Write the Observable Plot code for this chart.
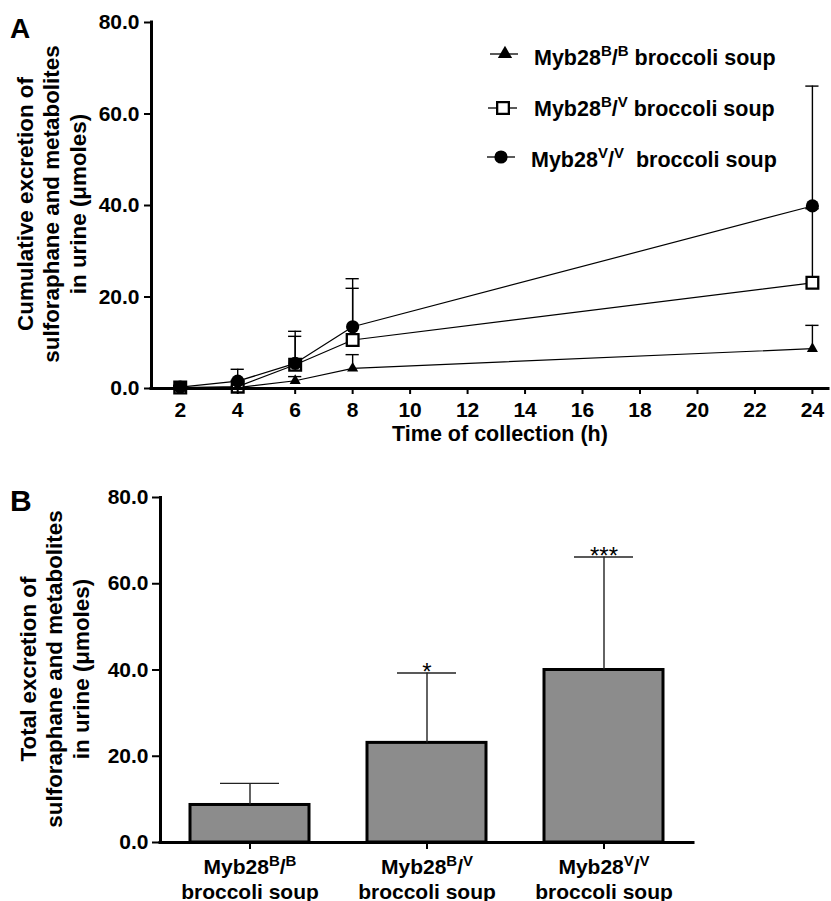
<!DOCTYPE html>
<html><head><meta charset="utf-8">
<script src="https://cdn.jsdelivr.net/npm/d3@7"></script>
<script src="https://cdn.jsdelivr.net/npm/@observablehq/plot@0.6"></script>
<style>
body{margin:0;background:#fff;}
#root{position:relative;width:831px;height:901px;overflow:hidden;background:#fff;font-family:"Liberation Sans",Arial,sans-serif;}
#root > div > svg{display:block}
#overlay{position:absolute;left:0;top:0;pointer-events:none}
</style></head>
<body><div id="root"><div id="panelA"></div><div id="panelB"></div></div>
<script>
// ---------- data ----------
const times = [2, 4, 6, 8, 24];
const bbMean = [0.1, 0.2, 1.7, 4.4, 8.7];
const bbErr  = [0.2, 0.3, 0.9, 3.0, 5.1];
const bvMean = [0.2, 0.4, 5.2, 10.6, 23.1];
const bvErr  = [0.3, 1.2, 6.2, 11.3, 16.2];
const vvMean = [0.3, 1.6, 5.5, 13.5, 39.9];
const vvErr  = [0.4, 2.6, 7.0, 10.5, 26.2];

const groups = ["BB", "BV", "VV"];
const totalMean = [8.7, 23.1, 40.0];
const totalErr  = [5.0, 16.2, 26.2];
const signif = ["", "*", "***"];
const supParts = {BB: ["B", "B"], BV: ["B", "V"], VV: ["V", "V"]};

const yTicks = [0, 20, 40, 60, 80];
const xTicks = [2, 4, 6, 8, 10, 12, 14, 16, 18, 20, 22, 24];

const F = '"Liberation Sans", Arial, Helvetica, sans-serif';
const NS = "http://www.w3.org/2000/svg";

// ---------- panel A ----------
const rows = [];
[["BB", bbMean, bbErr], ["BV", bvMean, bvErr], ["VV", vvMean, vvErr]].forEach(([s, m, e]) =>
  times.forEach((t, i) => rows.push({s, t, mean: m[i], top: m[i] + e[i]})));
const capHalf = 0.23;

const chartA = Plot.plot({
  width: 831, height: 452,
  marginLeft: 151, marginRight: 3, marginTop: 22, marginBottom: 64,
  style: {fontFamily: F, fontSize: "21px", fontWeight: "bold", color: "black", background: "white", overflow: "visible"},
  x: {domain: [1, 24.56]},
  y: {domain: [0, 80]},
  marks: [
    Plot.ruleX(rows, {x: "t", y1: "mean", y2: "top", stroke: "black", strokeWidth: 1.4}),
    Plot.ruleY(rows, {y: "top", x1: d => d.t - capHalf, x2: d => d.t + capHalf, stroke: "black", strokeWidth: 1.4}),
    Plot.line(rows, {x: "t", y: "mean", z: "s", stroke: "black", strokeWidth: 1.2}),
    Plot.dot(rows.filter(d => d.s === "BB"), {x: "t", y: "mean", symbol: "triangle2", fill: "black", r: 5.3}),
    Plot.dot(rows.filter(d => d.s === "BV"), {x: "t", y: "mean", symbol: "square", fill: "white", stroke: "black", strokeWidth: 2.3, r: 6.6}),
    Plot.dot(rows.filter(d => d.s === "VV"), {x: "t", y: "mean", symbol: "circle", fill: "black", r: 6.6}),
    Plot.ruleY([0], {stroke: "black", strokeWidth: 3, strokeLinecap: "square"}),
    Plot.ruleX([1], {y1: 0, y2: 80, stroke: "black", strokeWidth: 3, strokeLinecap: "square"}),
    Plot.axisX({ticks: xTicks, tickSize: 6, tickPadding: 8, tickFormat: d => String(d), strokeWidth: 2, label: null}),
    Plot.axisY({ticks: yTicks, tickSize: 7, tickPadding: 5, tickFormat: d3.format(".1f"), strokeWidth: 2, label: null})
  ]
});
document.getElementById("panelA").appendChild(chartA);

// ---------- panel B ----------
const bars = groups.map((g, i) => ({g, mean: totalMean[i], top: totalMean[i] + totalErr[i], sig: signif[i]}));
const chartB = Plot.plot({
  width: 831, height: 449,
  marginLeft: 160, marginRight: 138, marginTop: 45, marginBottom: 59,
  style: {fontFamily: F, fontSize: "21px", fontWeight: "bold", color: "black", background: "white", overflow: "visible"},
  x: {domain: groups, paddingInner: 0.33, paddingOuter: 0.165},
  y: {domain: [0, 80]},
  marks: [
    Plot.barY(bars, {x: "g", y: "mean", fill: "#8c8c8c", stroke: "black", strokeWidth: 3}),
    Plot.ruleX(bars, {x: "g", y1: "mean", y2: "top", stroke: "#222", strokeWidth: 1.4}),
    Plot.tickY(bars, {x: "g", y: "top", insetLeft: 30, insetRight: 30, stroke: "#222", strokeWidth: 1.4}),
    Plot.text(bars, {x: "g", y: "top", text: "sig", lineAnchor: "bottom", dy: 7, fontWeight: "normal", fontSize: 24, fill: "black"}),
    Plot.ruleY([0], {stroke: "black", strokeWidth: 3, strokeLinecap: "square"}),
    Plot.frame({anchor: "left", stroke: "black", strokeWidth: 3}),
    Plot.axisX({tickSize: 7, tickPadding: 7, strokeWidth: 2, fontSize: 21, tickFormat: g => "Myb28" + supParts[g].join("/") + "\nbroccoli soup", label: null}),
    Plot.axisY({ticks: yTicks, tickSize: 8, tickPadding: 4, tickFormat: d3.format(".1f"), strokeWidth: 2, label: null})
  ]
});
document.getElementById("panelB").appendChild(chartB);

// helper: write tspans with superscripts into a text element
function addT(el, str, attrs) {
  const t = document.createElementNS(NS, "tspan");
  for (const k in attrs) t.setAttribute(k, attrs[k]);
  t.textContent = str;
  el.appendChild(t);
  return t;
}

// rewrite B tick labels with superscripts
const tickTexts = chartB.querySelectorAll('g[aria-label="x-axis tick label"] text');
tickTexts.forEach((el, i) => {
  const g = groups[i];
  const [a, b] = supParts[g];
  el.textContent = "";
  el.removeAttribute("dy");
  el.setAttribute("y", "0");
  el.setAttribute("font-size", 21);
  const raise = 8, sup = 15;
  addT(el, "Myb28", {x: 0, dy: 17});
  addT(el, a, {dy: -raise, "font-size": sup});
  addT(el, "/", {dy: raise});
  addT(el, b, {dy: -raise, "font-size": sup});
  addT(el, "broccoli soup", {x: 0, dy: raise + 25});
});

// ---------- overlay: panel letters, axis titles, legend ----------
const ov = d3.select("#root").append("svg").attr("id", "overlay")
  .attr("width", 831).attr("height", 901)
  .style("font-family", F).style("font-weight", "bold").attr("fill", "black");

ov.append("text").attr("x", 10).attr("y", 38).attr("font-size", 28).text("A");
ov.append("text").attr("x", 10).attr("y", 511).attr("font-size", 30).text("B");

function vTitle(cx, cy, baselines, lines) {
  const g = ov.append("g").attr("transform", `translate(${cx},${cy}) rotate(-90)`);
  lines.forEach((l, i) => g.append("text").attr("x", 0).attr("y", baselines[i]).attr("text-anchor", "middle").attr("font-size", 22.4).text(l));
}
vTitle(0, 204, [32.5, 59, 85.5], ["Cumulative excretion of", "sulforaphane and metabolites", "in urine (\u03bcmoles)"]);
vTitle(0, 669, [35.5, 62, 88.5], ["Total excretion of", "sulforaphane and metabolites", "in urine (\u03bcmoles)"]);

ov.append("text").attr("x", 500).attr("y", 441).attr("text-anchor", "middle").attr("font-size", 21.5).text("Time of collection (h)");

// legend
const legend = [
  {g: "BB", y: 54, lx1: 490, lx2: 518, sx: 505, tx: 534, ty: 65, tail: " broccoli soup"},
  {g: "BV", y: 108, lx1: 488, lx2: 517, sx: 503, tx: 534, ty: 116, tail: " broccoli soup"},
  {g: "VV", y: 157, lx1: 487, lx2: 515, sx: 501, tx: 531, ty: 167, tail: "  broccoli soup"}
];
legend.forEach(e => {
  ov.append("line").attr("x1", e.lx1).attr("x2", e.lx2).attr("y1", e.y).attr("y2", e.y).attr("stroke", "black").attr("stroke-width", 1.3);
  const r = e.g === "BB" ? 5.3 : 6.6;
  const sym = e.g === "BB" ? d3.symbolTriangle : e.g === "BV" ? d3.symbolSquare : d3.symbolCircle;
  const p = ov.append("path").attr("transform", `translate(${e.sx},${e.y})`).attr("d", d3.symbol(sym, r * r * Math.PI)());
  if (e.g === "BV") p.attr("fill", "white").attr("stroke", "black").attr("stroke-width", 2.3);
  else p.attr("fill", "black");
  const t = ov.append("text").attr("x", e.tx).attr("y", e.ty).attr("font-size", 21.5).style("white-space", "pre").attr("xml:space", "preserve").node();
  const [a, b] = supParts[e.g];
  const raise = 9, sup = 15;
  addT(t, "Myb28", {});
  addT(t, a, {dy: -raise, "font-size": sup});
  addT(t, "/", {dy: raise});
  addT(t, b, {dy: -raise, "font-size": sup});
  addT(t, e.tail, {dy: raise});
});
</script>
</body></html>
